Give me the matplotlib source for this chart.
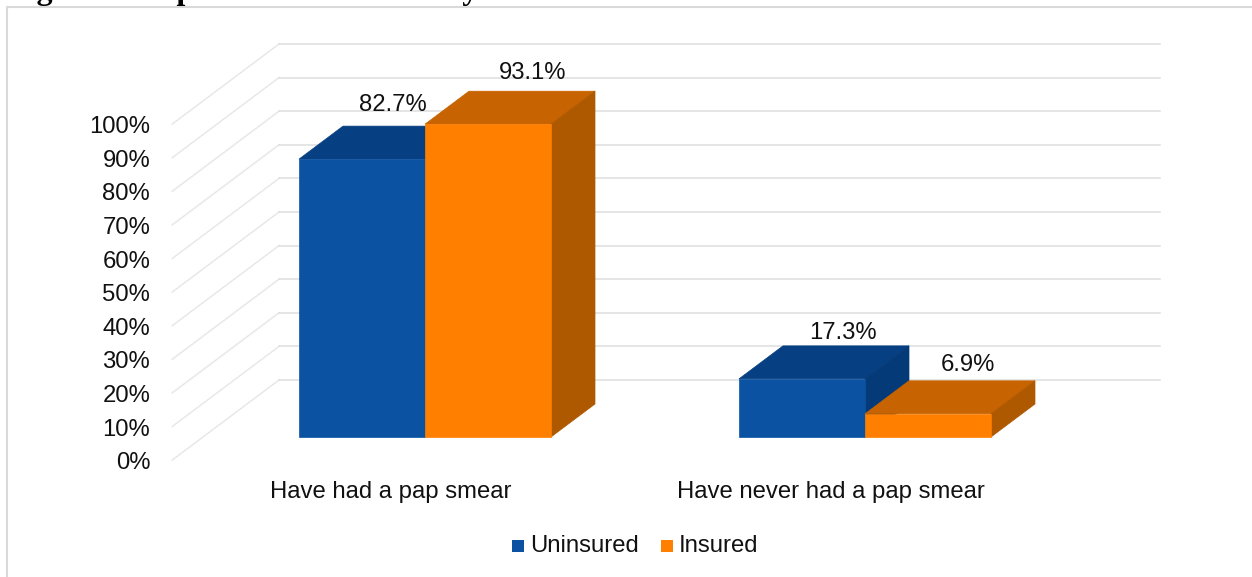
import matplotlib
matplotlib.use("Agg")
import matplotlib.pyplot as plt
from matplotlib.patches import Polygon, Rectangle

title = "Figure 8: Pap Smear Women Only"
categories = ["Have had a pap smear", "Have never had a pap smear"]
series_names = ["Uninsured", "Insured"]
uninsured = [82.7, 17.3]
insured = [93.1, 6.9]
tick_values = [0, 10, 20, 30, 40, 50, 60, 70, 80, 90, 100]

W, H = 1252, 577
FRONT = {"Uninsured": "#0b52a3", "Insured": "#ff7f00"}
TOP = {"Uninsured": "#063f82", "Insured": "#c76300"}
SIDE = {"Uninsured": "#053a78", "Insured": "#ae5800"}
TEXT = "#111111"
FS = 17.2

plt.rcParams["font.family"] = ["Liberation Sans", "DejaVu Sans"]

# one pixel in the two data directions
PX_X = 1 / 440  # category spacing is 440 px
PX_Y = 1 / 3.36  # 1% is 3.36 px
# depth direction, one bar depth
DX = 44 * PX_X
DY = 33 * PX_Y
BAR_W = 126 * PX_X


def proj(x, v, d=0.0):
    return (x + d * DX, v + d * DY)


fig = plt.figure(figsize=(W / 100, H / 100), dpi=100)
ax = fig.add_axes([0, 0, 1, 1])
ax.set_xlim(-425 * PX_X, (W - 425) * PX_X)
ax.set_ylim(-(H - 437) * PX_Y, 437 * PX_Y)
ax.axis("off")

# chart border, only top and left show in the crop
fig.add_artist(plt.Line2D([7 / W, 7 / W, 1], [0, 1 - 7 / H, 1 - 7 / H], color="#d9d9d9", lw=1.5))

# title is cut off by the top of the picture, only descenders show
fig.text(8 / W, 1 + 0.5 / H, title, ha="left", va="baseline", fontsize=23,
         fontweight="bold", family="Liberation Serif", color="black")

# walls: left edge of the floor and the back wall gridlines
wall_x = (203 - 425) * PX_X
right_x = (1084 - 425) * PX_X
d_front, d_back = -0.7, 1.73
for t in tick_values:
    x0, y0 = proj(wall_x, t, d_front)
    x1, y1 = proj(wall_x, t, d_back)
    x2, y2 = proj(right_x, t, d_back)
    ax.plot([x0, x1], [y0, y1], color="#e8e8e8", lw=1.1, zorder=1)
    ax.plot([x1, x2], [y1, y2], color="#dedede", lw=1.1, zorder=1)
    ax.text(x0 - 22 * PX_X, y0 - 3 * PX_Y, "{}%".format(t), ha="right", va="center", fontsize=FS, color=TEXT)


def bar3d(x_left, v, name, z):
    x_right = x_left + BAR_W
    ax.add_patch(Polygon([proj(x_left, v), proj(x_right, v), proj(x_right, v, 1), proj(x_left, v, 1)],
                         facecolor=TOP[name], edgecolor=TOP[name], lw=0.5, zorder=z))
    ax.add_patch(Polygon([proj(x_right, 0), proj(x_right, 0, 1), proj(x_right, v, 1), proj(x_right, v)],
                         facecolor=SIDE[name], edgecolor=SIDE[name], lw=0.5, zorder=z))
    ax.add_patch(Polygon([proj(x_left, 0), proj(x_right, 0), proj(x_right, v), proj(x_left, v)],
                         facecolor=FRONT[name], edgecolor=FRONT[name], lw=0.5, zorder=z))


# label nudges in px, (x, y)
uninsured_nudge = [(-13, 21), (-3, 13)]
insured_nudge = [(1, 18), (-4, 16)]

for i, cat in enumerate(categories):
    bar3d(i - BAR_W, uninsured[i], "Uninsured", 3)
    bar3d(i, insured[i], "Insured", 4)
    lx, ly = proj(i - BAR_W / 2, uninsured[i], 1)
    nx, ny = uninsured_nudge[i]
    ax.text(lx + nx * PX_X, ly + ny * PX_Y, "{}%".format(uninsured[i]), ha="center", va="center", fontsize=FS, color=TEXT, zorder=6)
    lx, ly = proj(i + BAR_W / 2, insured[i], 1)
    nx, ny = insured_nudge[i]
    ax.text(lx + nx * PX_X, ly + ny * PX_Y, "{}%".format(insured[i]), ha="center", va="center", fontsize=FS, color=TEXT, zorder=6)
    ax.text(i - 34.5 * PX_X, -55 * PX_Y, cat, ha="center", va="center", fontsize=FS, color=TEXT)

# legend
leg_y = -108.5 * PX_Y
sq = 12
for name, left in zip(series_names, [512, 661]):
    ax.add_patch(Rectangle(((left - 425) * PX_X, leg_y - sq / 2 * PX_Y), sq * PX_X, sq * PX_Y, color=FRONT[name], lw=0))
    ax.text((left + sq + 6 - 425) * PX_X, leg_y, name, ha="left", va="center", fontsize=FS, color=TEXT)

fig.savefig("out.png", dpi=100, facecolor="white")
